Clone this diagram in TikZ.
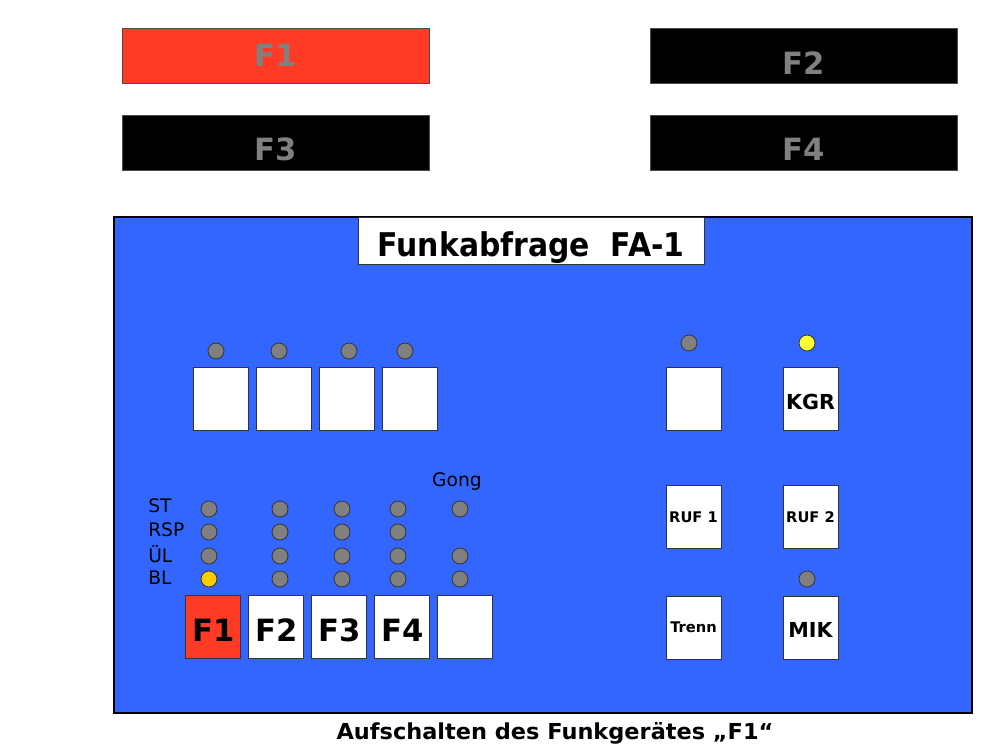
\documentclass[tikz,border=0pt]{standalone}
\usepackage{fontspec}
\setmainfont{DejaVu Sans}
\newfontfamily\condbold[FakeStretch=0.915]{DejaVu Sans Bold}
\newfontfamily\capbold[FakeStretch=1.02]{DejaVu Sans Bold}
\definecolor{panelblue}{HTML}{3366FF}
\definecolor{btnred}{HTML}{FF3B26}
\definecolor{ledgray}{HTML}{808080}
\definecolor{ledamber}{HTML}{FFCC00}
\definecolor{ledyellow}{HTML}{FFFF33}
\definecolor{bartext}{HTML}{808080}
\tikzset{
  bar/.style={draw=black!70, line width=0.6pt, minimum width=307*0.75pt, minimum height=55*0.75pt, inner sep=0pt},
  bartxt/.style={font=\bfseries\fontsize{23}{23}\selectfont, text=bartext},
  btn/.style={draw=black!80, fill=white, line width=0.6pt, minimum width=55*0.75pt, minimum height=63*0.75pt, inner sep=0pt},
  bigtxt/.style={font=\bfseries\fontsize{23}{23}\selectfont, inner sep=0pt},
  midtxt/.style={font=\bfseries\fontsize{15.5}{15.5}\selectfont, inner sep=0pt},
  smalltxt/.style={font=\bfseries\fontsize{11}{11}\selectfont, inner sep=0pt},
  led/.style={circle, draw=black!80, line width=0.6pt, fill=ledgray, minimum size=16*0.75pt, inner sep=0pt},
  lbl/.style={font=\fontsize{14}{14}\selectfont, inner sep=0pt, anchor=west},
}
\begin{document}
\begin{tikzpicture}[x=0.75pt,y=-0.75pt]
\useasboundingbox (0,0) rectangle (1000,750);
% top bars
\node[bar, fill=btnred] (b1) at (275.5,55.5) {};
\node[bar, fill=black] (b2) at (803.5,55.5) {};
\node[bar, fill=black] (b3) at (275.5,142.5) {};
\node[bar, fill=black] (b4) at (803.5,142.5) {};
\node[bartxt] (t1) at (275.5,55) {F1};
\node[bartxt] (t2) at (803.5,63) {F2};
\node[bartxt] (t3) at (275.5,149) {F3};
\node[bartxt] (t4) at (803.5,149) {F4};
% panel
\node[draw=black, line width=0.8pt, fill=panelblue, minimum width=858*0.75pt, minimum height=496*0.75pt, inner sep=0pt] (panel) at (543,465) {};
\node[draw=black!80, fill=white, line width=0.6pt, minimum width=346*0.75pt, minimum height=47*0.75pt, inner sep=0pt] (titlebox) at (531,240.5) {};
\node[font=\condbold\fontsize{24.5}{24.5}\selectfont, inner sep=0pt, anchor=base] (title) at (531,256) {Funkabfrage\ \ FA-1};
% top row buttons and leds
\node[led] (l1) at (216,351) {};
\node[led] (l2) at (279,351) {};
\node[led] (l3) at (349,351) {};
\node[led] (l4) at (405,351) {};
\node[btn] (k1) at (220.5,398.5) {};
\node[btn] (k2) at (283.5,398.5) {};
\node[btn] (k3) at (346.5,398.5) {};
\node[btn] (k4) at (409.5,398.5) {};
% right side
\node[led] (lr1) at (689,343) {};
\node[led, fill=ledyellow] (lr2) at (807,343) {};
\node[btn] (kr1) at (693.5,398.5) {};
\node[btn] (kgr) at (810.5,398.5) {};
\node[btn] (ruf1) at (693.5,516.5) {};
\node[btn] (ruf2) at (810.5,516.5) {};
\node[btn] (trenn) at (693.5,627.5) {};
\node[btn] (mik) at (810.5,627.5) {};
\node[midtxt] (kgrt) at (810.5,402) {KGR};
\node[smalltxt] (ruf1t) at (693.5,517.5) {RUF 1};
\node[smalltxt] (ruf2t) at (810.5,517.5) {RUF 2};
\node[smalltxt] (trennt) at (693.5,627) {Trenn};
\node[midtxt] (mikt) at (810.5,630) {MIK};
\node[led] (lmik) at (807,579) {};
% labels
\node[lbl] (st) at (148,506) {ST};
\node[lbl] (rsp) at (148,530) {RSP};
\node[lbl] (ul) at (148,554) {ÜL};
\node[lbl] (bl) at (148,578) {BL};
\node[font=\fontsize{14}{14}\selectfont, inner sep=0pt] (gong) at (457,482) {Gong};
% led grid
\foreach \c/\x in {1/209,2/280,3/342,4/398}{
  \foreach \r/\y in {1/509,2/532,3/556}{
    \node[led] (g\c\r) at (\x,\y) {};
  }
}
\node[led, fill=ledamber] (g14) at (209,579) {};
\node[led] (g24) at (280,579) {};
\node[led] (g34) at (342,579) {};
\node[led] (g44) at (398,579) {};
\node[led] (g51) at (460,509) {};
\node[led] (g53) at (460,556) {};
\node[led] (g54) at (460,579) {};
% bottom buttons
\node[btn, fill=btnred] (f1) at (212.5,627) {};
\node[btn] (f2) at (275.5,627) {};
\node[btn] (f3) at (338.5,627) {};
\node[btn] (f4) at (401.5,627) {};
\node[btn] (f5) at (464.5,627) {};
\node[bigtxt] (f1t) at (214,630) {F1};
\node[bigtxt] (f2t) at (277,630) {F2};
\node[bigtxt] (f3t) at (340,630) {F3};
\node[bigtxt] (f4t) at (403,630) {F4};
% caption
\node[font=\capbold\fontsize{16.5}{16.5}\selectfont, inner sep=0pt, anchor=base] (cap) at (555,739) {Aufschalten des Funkgerätes „F1“};
\end{tikzpicture}
\end{document}
